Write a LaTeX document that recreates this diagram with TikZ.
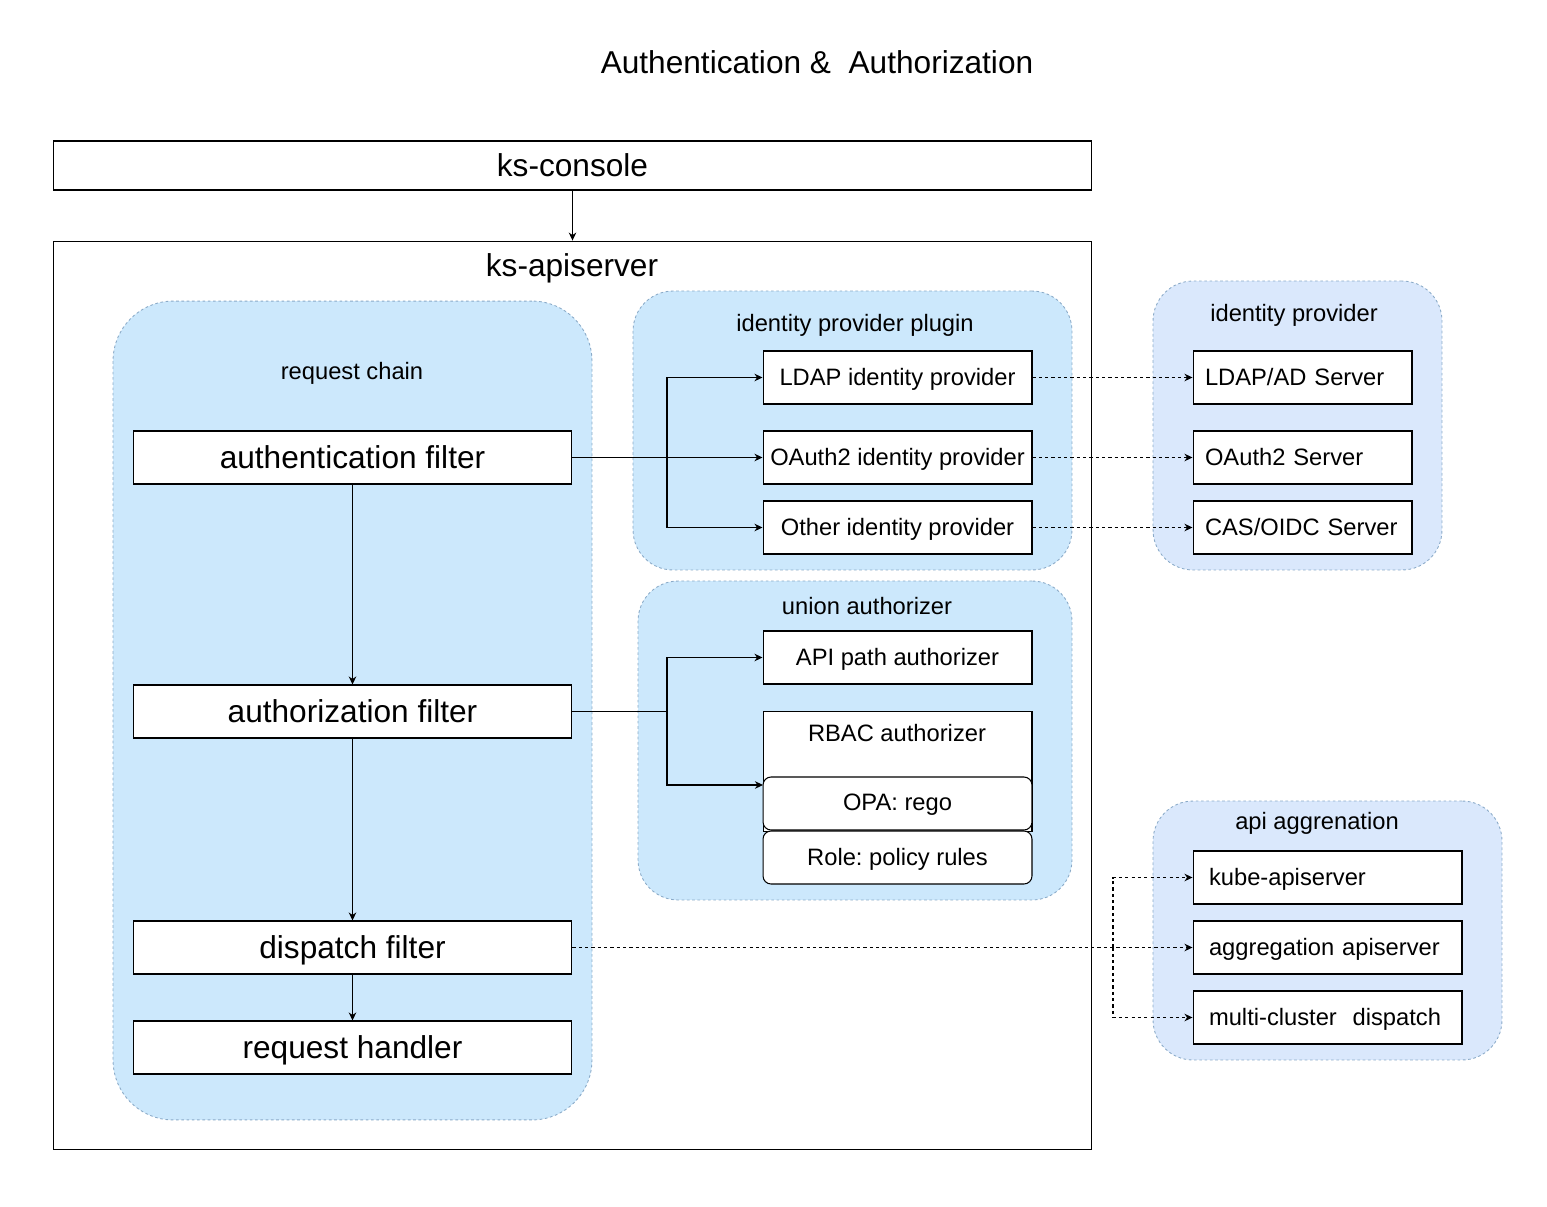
\documentclass[tikz,border=0pt]{standalone}
\usepackage{fontspec}
\setmainfont{Liberation Sans}
\usetikzlibrary{arrows.meta}

\definecolor{chainblue}{HTML}{CCE8FC}
\definecolor{extblue}{HTML}{DAE8FC}
\definecolor{groupline}{HTML}{8AAAC8}

\begin{document}
\frenchspacing
\begin{tikzpicture}[x=0.02cm,y=-0.02cm,
  big/.style={font=\fontsize{18}{21}\selectfont},
  mid/.style={font=\fontsize{13.5}{16}\selectfont},
  box/.style={draw=black, fill=white, line width=0.6pt, minimum height=1.06cm, inner sep=0pt, text depth=0.1em},
  srvbox/.style={box, mid, text width=3.9cm, align=left, inner xsep=0.24cm},
  aggbox/.style={box, mid, text width=4.74cm, align=left, inner xsep=0.32cm},
  grp/.style={draw=groupline, dash pattern=on 1.5pt off 1.5pt, line width=0.5pt, inner sep=0pt},
  arr/.style={line width=0.6pt, -{Stealth[length=1.6mm,width=1.5mm,inset=0.5mm]}},
  darr/.style={arr, dash pattern=on 1.8pt off 1.8pt}]
\useasboundingbox (0,0) rectangle (1547,1206);
\node[big] (title) at (817,62) {Authentication \&\ \ Authorization};
\node[box, big, minimum width=20.78cm, minimum height=0.98cm] (console) at (572.5,165.5) {ks-console};
\node[box, minimum width=20.78cm, minimum height=18.18cm] (apiserver) at (572.5,695.5) {};
\node[big] (apilbl) at (572,268) {ks-apiserver};
\node[grp, fill=chainblue, rounded corners=1.2cm, minimum width=9.58cm, minimum height=16.38cm] (chain) at (352.5,710.5) {};
\node[mid] (chainlbl) at (352,373) {request chain};
\node[grp, fill=chainblue, rounded corners=0.8cm, minimum width=8.78cm, minimum height=5.58cm] (idpplug) at (852.5,430.5) {};
\node[mid] (idpplbl) at (855,325) {identity provider plugin};
\node[grp, fill=chainblue, rounded corners=0.8cm, minimum width=8.68cm, minimum height=6.38cm] (union) at (855,740.5) {};
\node[mid] (unionlbl) at (867,606) {union authorizer};
\node[grp, fill=extblue, rounded corners=0.8cm, minimum width=5.78cm, minimum height=5.78cm] (idp) at (1297.5,425.5) {};
\node[mid] (idplbl) at (1294,315) {identity provider};
\node[grp, fill=extblue, rounded corners=0.8cm, minimum width=6.98cm, minimum height=5.18cm] (aggr) at (1327.5,930.5) {};
\node[mid] (aggrlbl) at (1317,823) {api aggrenation};
\node[box, big, minimum width=8.78cm] (authn) at (352.5,457.5) {authentication filter};
\node[box, big, minimum width=8.78cm] (authz) at (352.5,711.5) {authorization filter};
\node[box, big, minimum width=8.78cm] (dispatch) at (352.5,947.5) {dispatch filter};
\node[box, big, minimum width=8.78cm] (handler) at (352.5,1047.5) {request handler};
\node[box, mid, minimum width=5.38cm] (ldapp) at (897.5,377.5) {LDAP identity provider};
\node[box, mid, minimum width=5.38cm] (oauthp) at (897.5,457.5) {OAuth2 identity provider};
\node[box, mid, minimum width=5.38cm] (otherp) at (897.5,527.5) {Other identity provider};
\node[box, mid, minimum width=5.38cm] (apip) at (897.5,657.5) {API path authorizer};
\node[box, minimum width=5.38cm, minimum height=2.4cm, anchor=north] (rbac) at (897.5,711) {};
\node[mid] (rbaclbl) at (897,733) {RBAC authorizer};
\node[box, mid, rounded corners=0.16cm, minimum width=5.38cm] (opa) at (897.5,803.5) {OPA: rego};
\node[box, mid, rounded corners=0.16cm, minimum width=5.38cm] (role) at (897.5,857.5) {Role: policy rules};
\node[srvbox] (ldaps) at (1302.5,377.5) {LDAP/AD Server};
\node[srvbox] (oauths) at (1302.5,457.5) {OAuth2 Server};
\node[srvbox] (cass) at (1302.5,527.5) {CAS/OIDC Server};
\node[aggbox] (kubeap) at (1327.5,877.5) {kube-apiserver};
\node[aggbox] (aggap) at (1327.5,947.5) {aggregation apiserver};
\node[aggbox] (multic) at (1327.5,1017.5) {multi-cluster\ \ dispatch};
\coordinate (ipbr) at (667,457.5);
\coordinate (uabr) at (667,711.5);
\coordinate (rbacin) at (763,785);
\coordinate (agbr) at (1113,947.5);
\draw[arr] (console.south) -- (apiserver.north);
\draw[arr] (authn.south) -- (authz.north);
\draw[arr] (authz.south) -- (dispatch.north);
\draw[arr] (dispatch.south) -- (handler.north);
\draw[arr] (authn.east) -- (oauthp.west);
\draw[arr] (ipbr) |- (ldapp.west);
\draw[arr] (ipbr) |- (otherp.west);
\draw[line width=0.6pt] (authz.east) -- (uabr);
\draw[arr] (uabr) |- (apip.west);
\draw[arr] (uabr) |- (rbacin);
\draw[darr] (ldapp.east) -- (ldaps.west);
\draw[darr] (oauthp.east) -- (oauths.west);
\draw[darr] (otherp.east) -- (cass.west);
\draw[darr] (dispatch.east) -- (aggap.west);
\draw[darr] (agbr) |- (kubeap.west);
\draw[darr] (agbr) |- (multic.west);
\end{tikzpicture}
\end{document}
